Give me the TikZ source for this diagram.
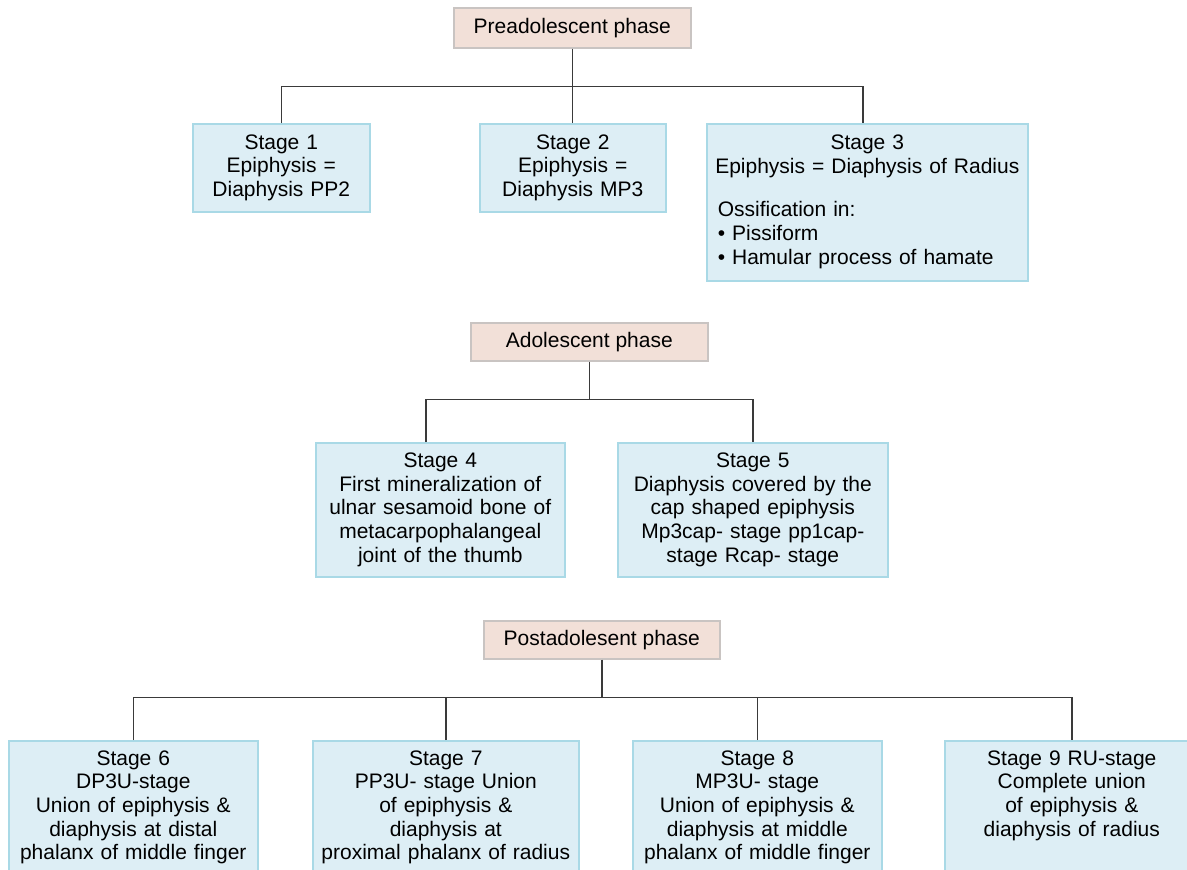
\documentclass[tikz,border=0pt]{standalone}
\usepackage{fontspec}
\setmainfont{Liberation Sans}
\usepackage{xcolor}
\definecolor{phasefill}{HTML}{F2E0D8}
\definecolor{phaseline}{HTML}{C9C4C2}
\definecolor{stagefill}{HTML}{DDEEF5}
\definecolor{stageline}{HTML}{A9D9E6}
\definecolor{linkgray}{HTML}{3A3A3A}
\begin{document}
\begin{tikzpicture}[x=0.5pt,y=-0.5pt,
 phase/.style={draw=phaseline,fill=phasefill,anchor=north west,line width=0.8pt,font=\fontsize{10.5}{11.8}\selectfont},
 stagebox/.style={draw=stageline,fill=stagefill,anchor=north west,line width=0.8pt,inner xsep=1pt,inner ysep=4.9pt,align=center,font=\fontsize{10.5}{11.8}\selectfont},
 link/.style={draw=linkgray,line width=0.75pt}]
 \useasboundingbox (0,0) rectangle (1187,869);
 \clip (0,0) rectangle (1187,869);
 \node[phase,minimum width=118.5pt,minimum height=20pt] (pre) at (453,7) {Preadolescent phase};
 \node[stagebox,minimum width=88.5pt,minimum height=44pt,text width=84pt] (s1) at (192,123) {Stage 1\\ Epiphysis =\\ Diaphysis PP2};
 \node[stagebox,minimum width=93pt,minimum height=44pt,text width=88pt] (s2) at (479,123) {Stage 2\\ Epiphysis =\\ Diaphysis MP3};
 \node[stagebox,minimum width=160.5pt,minimum height=78.5pt,text width=158pt,align=left,font=\fontsize{10.5}{12}\selectfont] (s3) at (706,123) {{\centering Stage 3\\ Epiphysis = Diaphysis of Radius\par}\vspace{9.5pt}{\leftskip=4.25pt Ossification in:\\ \textbullet{} Pissiform\\ \textbullet{} Hamular process of hamate\par}};
 \node[phase,minimum width=118.5pt,minimum height=19pt] (ado) at (470,322) {Adolescent phase};
 \node[stagebox,minimum width=124.5pt,minimum height=67pt,text width=120pt] (s4) at (315,442) {Stage 4\\ First mineralization of\\ ulnar sesamoid bone of\\ metacarpophalangeal\\ joint of the thumb};
 \node[stagebox,minimum width=135pt,minimum height=67pt,text width=130pt] (s5) at (617,442) {Stage 5\\ Diaphysis covered by the\\ cap shaped epiphysis\\ Mp3cap- stage pp1cap-\\ stage Rcap- stage};
 \node[phase,minimum width=118pt,minimum height=19pt] (post) at (483,620) {Postadolesent phase};
 \node[stagebox,minimum width=124.5pt,text width=120pt,text depth=80pt] (s6) at (8,740) {Stage 6\\ DP3U-stage\\ Union of epiphysis \&\\ diaphysis at distal\\ phalanx of middle finger};
 \node[stagebox,minimum width=133pt,text width=129pt,text depth=80pt] (s7) at (312,740) {Stage 7\\ PP3U- stage Union\\ of epiphysis \&\\ diaphysis at\\ proximal phalanx of radius};
 \node[stagebox,minimum width=124.5pt,text width=120pt,text depth=80pt] (s8) at (632,740) {Stage 8\\ MP3U- stage\\ Union of epiphysis \&\\ diaphysis at middle\\ phalanx of middle finger};
 \node[stagebox,minimum width=127pt,text width=122pt,text depth=80pt] (s9) at (944,740) {Stage 9 RU-stage\\ Complete union\\ of epiphysis \&\\ diaphysis of radius};
 \draw[link] (pre.south) -- ++(0,38) coordinate (prejoin) -- (prejoin |- s2.north);
 \draw[link] (s1.north) |- (prejoin) -| ([xshift=-2.25pt]s3.north);
 \draw[link] (ado.south) -- ++(0,38) coordinate (adojoin);
 \draw[link] ([xshift=-7.25pt]s4.north) |- (adojoin) -| (s5.north);
 \draw[link] (post.south) -- ++(0,38) coordinate (postjoin);
 \draw[link] (s6.north) |- (postjoin) -| (s9.north);
 \draw[link] (s7.north) -- (s7.north |- postjoin);
 \draw[link] (s8.north) -- (s8.north |- postjoin);
\end{tikzpicture}
\end{document}
